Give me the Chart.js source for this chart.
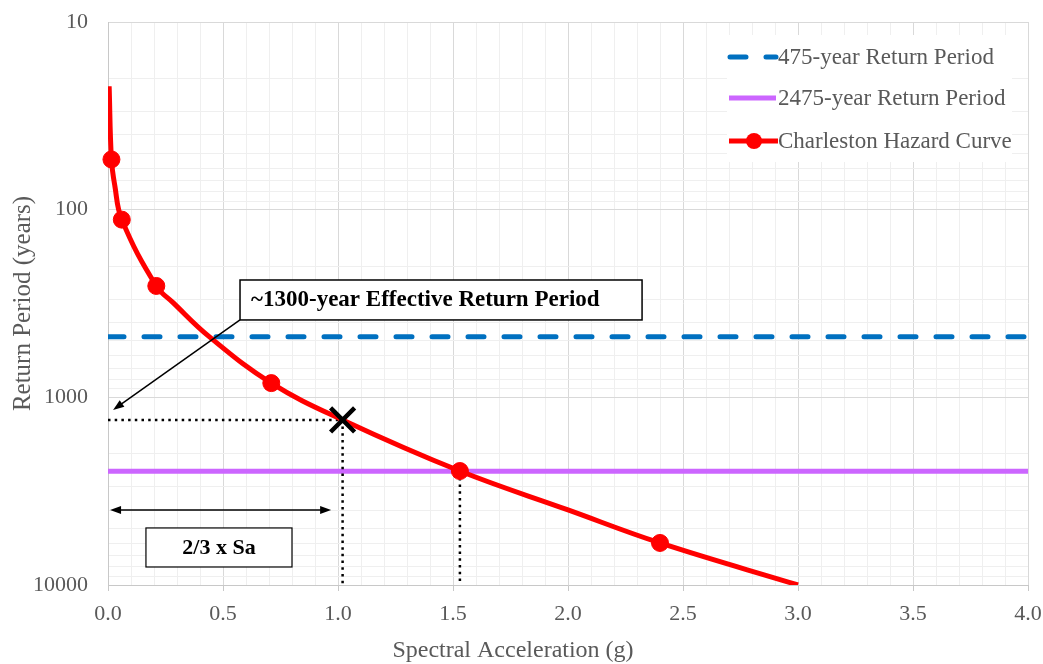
<!DOCTYPE html>
<html><head><meta charset="utf-8">
<script src="https://cdn.jsdelivr.net/npm/chart.js@4.4.1/dist/chart.umd.min.js"></script>
<style>html,body{margin:0;padding:0;background:#fff}#wrap{width:1043px;height:664px;position:relative}</style>
</head><body><div id="wrap"><canvas id="c" width="1043" height="664"></canvas></div>
<script>
// ---- data ----
const hazardSa = [0.005, 0.015, 0.03, 0.06, 0.21, 0.284, 0.44, 0.71, 1.02, 1.53, 2.00, 2.40, 3.00];
const hazardRP = [22, 54, 75, 113, 255, 314, 475, 840, 1320, 2470, 3980, 5970, 10000];
const markerSa = [0.015, 0.06, 0.21, 0.71, 1.53, 2.40];
const markerRP = [54, 113, 255, 840, 2470, 5970];
const rp475 = 475;
const rp2475 = 2475;
const effSa = 1.02, effRP = 1320;     // ~1300-year effective point
const mceSa = 1.53;                   // Sa at 2475-year RP
const xMin = 0, xMax = 4, xStep = 0.1;
const yMin = 10, yMax = 10000;
const yTickLabels = [10, 100, 1000, 10000];
const seriesLabels = ['475-year Return Period', '2475-year Return Period', 'Charleston Hazard Curve'];
const note1 = '~1300-year Effective Return Period';
const note2 = '2/3 x Sa';
const xTitle = 'Spectral Acceleration (g)';
const yTitle = 'Return Period (years)';

const serif = '"Liberation Serif", "Times New Roman", serif';
const grey = '#595959';
const blue = '#0070C0', purple = '#CC66FF', red = '#FF0000';

// gridline values for log axis (1..9 x each decade)
const yGrid = [];
for (let i = 0; i < yTickLabels.length - 1; i++) {
  for (let m = 1; m < 10; m++) yGrid.push(yTickLabels[i] * m);
}
yGrid.push(yTickLabels[yTickLabels.length - 1]);

const isMajorY = v => yTickLabels.includes(v);
const isMajorX = v => Math.abs(v * 2 - Math.round(v * 2)) < 1e-6;

const pts = (xs, ys) => xs.map((x, i) => ({x, y: ys[i]}));

function arrowHead(ctx, x1, y1, x2, y2, len, wid) {
  const a = Math.atan2(y2 - y1, x2 - x1);
  ctx.beginPath();
  ctx.moveTo(x2, y2);
  ctx.lineTo(x2 - len * Math.cos(a) + wid / 2 * Math.sin(a), y2 - len * Math.sin(a) - wid / 2 * Math.cos(a));
  ctx.lineTo(x2 - len * Math.cos(a) - wid / 2 * Math.sin(a), y2 - len * Math.sin(a) + wid / 2 * Math.cos(a));
  ctx.closePath();
  ctx.fill();
}

function noPad(s) { s.paddingTop = 0; s.paddingBottom = 0; s.paddingLeft = 0; s.paddingRight = 0; }

const annotationPlugin = {
  id: 'notes',
  afterDatasetsDraw(chart) {
    const {ctx, scales: {x, y}} = chart;
    ctx.save();
    ctx.strokeStyle = '#000'; ctx.fillStyle = '#000';
    // box 1
    const b1 = {l: x.getPixelForValue(0.574), r: x.getPixelForValue(2.322), t: y.getPixelForValue(237), b: y.getPixelForValue(387)};
    ctx.fillStyle = '#fff';
    ctx.fillRect(b1.l, b1.t, b1.r - b1.l, b1.b - b1.t);
    ctx.lineWidth = 1.5;
    ctx.strokeRect(b1.l, b1.t, b1.r - b1.l, b1.b - b1.t);
    ctx.fillStyle = '#000';
    ctx.font = 'bold 23px ' + serif;
    ctx.textAlign = 'left'; ctx.textBaseline = 'middle';
    ctx.fillText(note1, b1.l + 11, (b1.t + b1.b) / 2);
    // arrow 1
    const ax1 = b1.l, ay1 = b1.b, ax2 = x.getPixelForValue(0.022), ay2 = y.getPixelForValue(1167);
    ctx.lineWidth = 1.5;
    ctx.beginPath(); ctx.moveTo(ax1, ay1); ctx.lineTo(ax2 + 5, ay2 - 3.5); ctx.stroke();
    arrowHead(ctx, ax1, ay1, ax2, ay2, 11, 8);
    // double arrow
    const dy = y.getPixelForValue(3981), dl = x.getPixelForValue(0.009), dr = x.getPixelForValue(0.97);
    ctx.beginPath(); ctx.moveTo(dl + 8, dy); ctx.lineTo(dr - 8, dy); ctx.stroke();
    arrowHead(ctx, dr, dy, dl, dy, 11, 8);
    arrowHead(ctx, dl, dy, dr, dy, 11, 8);
    // box 2
    const b2 = {l: x.getPixelForValue(0.165), r: x.getPixelForValue(0.80), t: y.getPixelForValue(4966), b: y.getPixelForValue(8017)};
    ctx.fillStyle = '#fff';
    ctx.fillRect(b2.l, b2.t, b2.r - b2.l, b2.b - b2.t);
    ctx.lineWidth = 1.2;
    ctx.strokeRect(b2.l, b2.t, b2.r - b2.l, b2.b - b2.t);
    ctx.fillStyle = '#000';
    ctx.font = 'bold 22px ' + serif;
    ctx.textAlign = 'center';
    ctx.fillText(note2, (b2.l + b2.r) / 2, (b2.t + b2.b) / 2 + 1);
    ctx.restore();
  },
  afterDraw(chart) {
    const {ctx} = chart;
    ctx.save();
    // x axis title
    ctx.fillStyle = grey;
    ctx.font = '24px ' + serif;
    ctx.textAlign = 'center'; ctx.textBaseline = 'middle';
    ctx.fillText(xTitle, 513, 651);
    // legend
    const ds = chart.data.datasets;
    ctx.fillStyle = '#fff';
    ctx.fillRect(727, 35, 285, 127);
    const rows = [57, 98, 141];
    ctx.lineWidth = 5;
    // row 1: dashed blue
    ctx.strokeStyle = blue; ctx.lineCap = 'round'; ctx.setLineDash([16, 20]);
    ctx.beginPath(); ctx.moveTo(730, rows[0]); ctx.lineTo(776, rows[0]); ctx.stroke();
    ctx.setLineDash([]); ctx.lineCap = 'butt';
    // row 2: purple
    ctx.strokeStyle = purple;
    ctx.beginPath(); ctx.moveTo(729, rows[1]); ctx.lineTo(776, rows[1]); ctx.stroke();
    // row 3: red line + marker
    ctx.strokeStyle = red;
    ctx.beginPath(); ctx.moveTo(729, rows[2]); ctx.lineTo(778, rows[2]); ctx.stroke();
    ctx.fillStyle = red;
    ctx.beginPath(); ctx.arc(754, rows[2], 8, 0, Math.PI * 2); ctx.fill();
    ctx.fillStyle = grey;
    ctx.font = '23px ' + serif;
    ctx.textAlign = 'left'; ctx.textBaseline = 'middle';
    const legendOrder = [5, 4, 2];
    legendOrder.forEach((di, i) => ctx.fillText(ds[di].label, 778, rows[i] + 1));
    ctx.restore();
  }
};

new Chart(document.getElementById('c'), {
  type: 'line',
  data: {
    datasets: [
      { label: 'Effective point', data: [{x: effSa, y: effRP}], showLine: false,
        pointStyle: 'crossRot', pointRadius: 17, pointBorderWidth: 4.5, borderColor: '#000', backgroundColor: '#000', order: 0, clip: false },
      { label: 'Hazard markers', data: pts(markerSa, markerRP), showLine: false,
        pointStyle: 'circle', pointRadius: 8.5, pointBorderWidth: 1, borderColor: red, backgroundColor: red, order: 1, clip: false },
      { label: seriesLabels[2], data: pts(hazardSa, hazardRP), borderColor: red, backgroundColor: red,
        borderWidth: 5, pointRadius: 0, tension: 0.4, order: 2, clip: 0 },
      { label: 'Effective guide', data: [{x: xMin, y: effRP}, {x: effSa, y: effRP}, {x: effSa, y: yMax}],
        borderColor: '#000', borderWidth: 2.5, borderDash: [2.5, 4.2], pointRadius: 0, order: 3, tension: 0 },
      { label: seriesLabels[1], data: [{x: xMin, y: rp2475}, {x: xMax, y: rp2475}],
        borderColor: purple, borderWidth: 5, pointRadius: 0, order: 4 },
      { label: seriesLabels[0], data: [{x: xMin, y: rp475}, {x: xMax, y: rp475}],
        borderColor: blue, borderWidth: 5, borderDash: [16, 20], borderCapStyle: 'round', pointRadius: 0, order: 5 },
      { label: 'MCE guide', data: [{x: mceSa, y: rp2475}, {x: mceSa, y: yMax}],
        borderColor: '#000', borderWidth: 2.5, borderDash: [2.5, 4.2], pointRadius: 0, order: 3 }
    ]
  },
  options: {
    responsive: false,
    devicePixelRatio: 1,
    animation: false,
    events: [],
    layout: { autoPadding: false, padding: { left: 0, right: 15, top: 22, bottom: 0 } },
    plugins: { legend: { display: false }, tooltip: { enabled: false } },
    scales: {
      x: {
        type: 'linear', min: xMin, max: xMax,
        afterFit: s => { s.height = 79; noPad(s); },
        ticks: {
          stepSize: xStep, autoSkip: false, maxRotation: 0, minRotation: 0,
          color: grey, font: { family: serif, size: 22 }, padding: 10,
          callback: v => isMajorX(v) ? Number(v).toFixed(1) : ''
        },
        grid: {
          color: c => (c.tick && isMajorX(c.tick.value)) ? '#d9d9d9' : '#efefef',
          tickColor: c => (c.tick && isMajorX(c.tick.value)) ? '#c8c8c8' : 'rgba(0,0,0,0)',
          tickLength: 6, lineWidth: 1
        },
        border: { color: '#c8c8c8', width: 1 }
      },
      y: {
        type: 'logarithmic', min: yMin, max: yMax, reverse: true,
        afterFit: s => { s.width = 108; noPad(s); },
        afterBuildTicks: s => { s.ticks = yGrid.map(v => ({value: v, major: isMajorY(v)})); },
        ticks: {
          autoSkip: false, color: grey, font: { family: serif, size: 22 }, padding: 20,
          callback: v => isMajorY(v) ? String(v) : ''
        },
        grid: {
          color: c => (c.tick && isMajorY(c.tick.value)) ? '#d9d9d9' : '#efefef',
          drawTicks: false, lineWidth: 1
        },
        border: { color: '#c8c8c8', width: 1 },
        title: { display: true, text: yTitle, color: grey, font: { family: serif, size: 25 }, padding: { top: 8, bottom: 0 } }
      }
    }
  },
  plugins: [annotationPlugin]
});
</script>
</body></html>
